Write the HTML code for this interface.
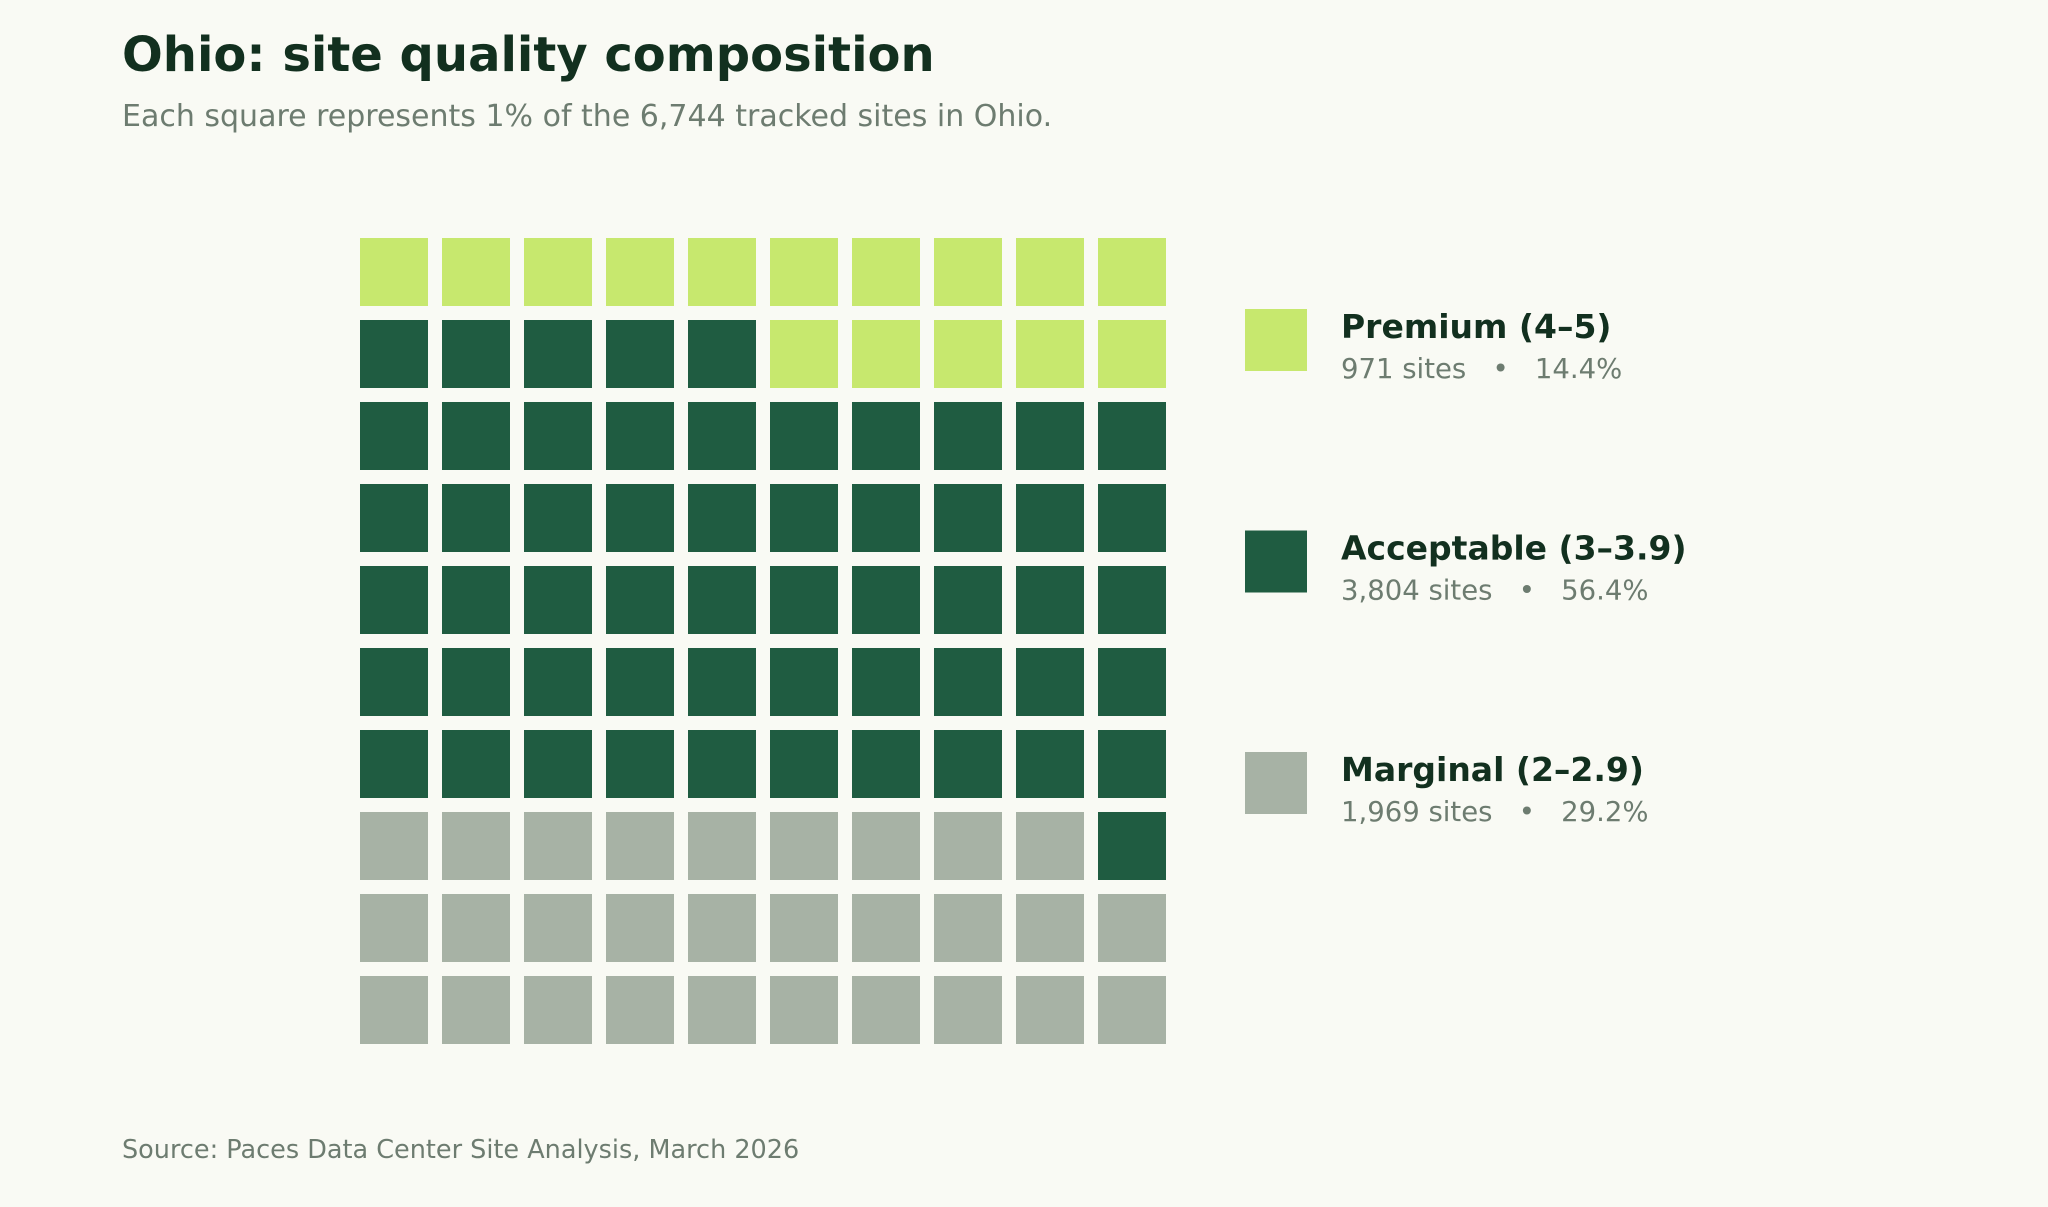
<!DOCTYPE html>
<html><head><meta charset="utf-8">
<style>
html,body{margin:0;padding:0;background:#f9faf4;}
body{width:2048px;height:1207px;position:relative;overflow:hidden;font-family:"DejaVu Sans","Liberation Sans",sans-serif;}
.t{position:absolute;white-space:nowrap;}
</style></head>
<body>
<div class="t" style="left:122px;top:27px;font-size:48px;font-weight:bold;color:#12301f;">Ohio: site quality composition</div>
<div class="t" style="left:122px;top:99px;font-size:30px;color:#6d7c70;">Each square represents 1% of the 6,744 tracked sites in Ohio.</div>
<svg id="chart" width="2048" height="1207" style="position:absolute;left:0;top:0"></svg>
<div class="t" style="left:122px;top:1135px;font-size:25.5px;color:#6d7c70;">Source: Paces Data Center Site Analysis, March 2026</div>
<script>
const categories = ["Premium (4–5)", "Acceptable (3–3.9)", "Marginal (2–2.9)"];
const siteCounts = [971, 3804, 1969];
const percents = [14.4, 56.4, 29.2];
const squares = [15, 56, 29];
const colors = ["#c7e86e", "#1f5c41", "#a7b2a5"];
const NS = "http://www.w3.org/2000/svg";
const svg = document.getElementById("chart");
const x0 = 360, y0 = 238, px = 82, py = 82, cw = 68, ch = 68;
function cellX(c){return x0 + c*px;}
function cellY(r){return y0 + r*py;}
let order = [2,1,0];
let idx = 0;
order.forEach(k=>{
  for(let i=0;i<squares[k];i++){
    const r = 9 - Math.floor(idx/10), c = idx%10;
    const rect = document.createElementNS(NS,"rect");
    rect.setAttribute("x",cellX(c));rect.setAttribute("y",cellY(r));
    rect.setAttribute("width",cw);rect.setAttribute("height",ch);
    rect.setAttribute("fill",colors[k]);
    
    
    svg.appendChild(rect);
    idx++;
  }
});
const lx = 1245, ly = 309, lgap = 221.5;
categories.forEach((cat,k)=>{
  const y = ly + k*lgap;
  const sw = document.createElementNS(NS,"rect");
  sw.setAttribute("x",lx);sw.setAttribute("y",y);sw.setAttribute("width",62);sw.setAttribute("height",62);
  sw.setAttribute("fill",colors[k]);
  
  
  svg.appendChild(sw);
  const t1 = document.createElementNS(NS,"text");
  t1.setAttribute("x",1341);t1.setAttribute("y",y+29);
  t1.setAttribute("font-size","33");t1.setAttribute("font-weight","bold");t1.setAttribute("fill","#12301f");
  t1.setAttribute("font-family","DejaVu Sans, Liberation Sans, sans-serif");
  t1.textContent = cat;
  
  
  svg.appendChild(t1);
  const t2 = document.createElementNS(NS,"text");
  t2.setAttribute("x",1341);t2.setAttribute("y",y+69);
  t2.setAttribute("font-size","27.5");t2.setAttribute("fill","#6d7c70");
  t2.setAttribute("font-family","DejaVu Sans, Liberation Sans, sans-serif");
  t2.textContent = siteCounts[k].toLocaleString("en-US") + " sites\u00a0\u00a0\u00a0•\u00a0\u00a0\u00a0" + percents[k].toFixed(1) + "%";
  
  
  svg.appendChild(t2);
});
</script>
</body></html>
